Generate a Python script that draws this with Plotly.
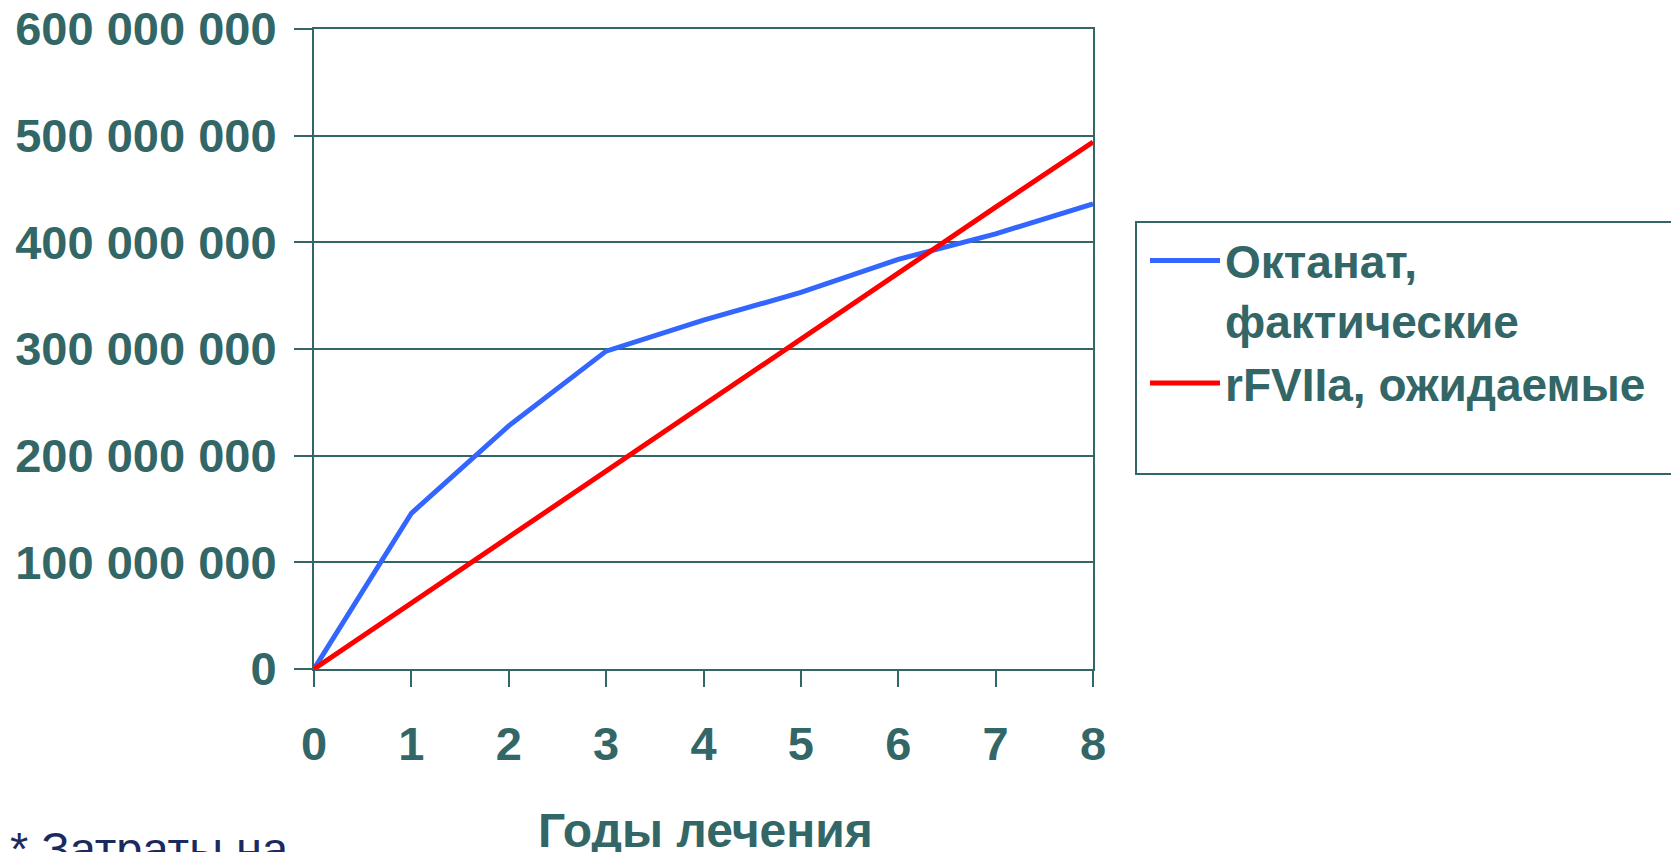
import plotly.graph_objects as go

years = [0, 1, 2, 3, 4, 5, 6, 7, 8]
octanat = [0, 146e6, 228e6, 298e6, 327e6, 353e6, 384e6, 408e6, 436e6]
rfviia = [0, 62e6, 124e6, 186e6, 248e6, 310e6, 372e6, 433e6, 494e6]
series_names = ["Октанат,<br>фактические", "rFVIIa, ожидаемые"]
y_ticks = [0, 100e6, 200e6, 300e6, 400e6, 500e6, 600e6]
y_ticklabels = ["0", "100 000 000", "200 000 000", "300 000 000",
                "400 000 000", "500 000 000", "600 000 000"]
x_title = "Годы лечения"
footnote = "* Затраты на"

TEAL = "#336666"
FONT = "Liberation Sans, Arial, sans-serif"

# plot-area geometry in pixels
L, R, T, B = 314, 1093, 29, 669
W, H = R - L, B - T


def px_x(p):
    return (p - L) / W


def px_y(p):
    return (B - p) / H


fig = go.Figure()
fig.add_trace(go.Scatter(x=years, y=octanat, mode="lines", name=series_names[0],
                         legendgroup="a",
                         line=dict(color="#3366FF", width=5)))
fig.add_trace(go.Scatter(x=years, y=rfviia, mode="lines", name=series_names[1],
                         legendgroup="b",
                         line=dict(color="#FF0000", width=5)))

fig.update_layout(
    width=1671, height=852,
    margin=dict(l=L, r=1671 - R, t=T, b=852 - B),
    paper_bgcolor="white", plot_bgcolor="white",
    font=dict(family=FONT, color=TEAL, size=47),
    showlegend=True,
    legend=dict(
        x=px_x(1145), xanchor="left", y=px_y(224), yanchor="top",
        borderwidth=0, bgcolor="rgba(0,0,0,0)",
        font=dict(family=FONT, size=46, color=TEAL, weight="bold"),
        itemwidth=70, tracegroupgap=0, traceorder="normal", valign="top",
    ),
    xaxis=dict(
        range=[0, 8], tickmode="array", tickvals=years,
        ticktext=[f"<b>{v}</b>" for v in years],
        showline=True, linecolor=TEAL, linewidth=2, mirror=True,
        ticks="outside", ticklen=16, tickwidth=2, tickcolor=TEAL,
        showgrid=False, zeroline=False, automargin=False,
        ticklabelstandoff=17,
        tickfont=dict(family=FONT, size=47, color=TEAL),
    ),
    yaxis=dict(
        range=[0, 600e6], tickmode="array", tickvals=y_ticks,
        ticktext=[f"<b>{t}</b>" for t in y_ticklabels],
        showline=True, linecolor=TEAL, linewidth=2, mirror=True,
        ticks="outside", ticklen=18, tickwidth=2, tickcolor=TEAL,
        showgrid=True, gridcolor=TEAL, gridwidth=2, zeroline=False,
        automargin=False,
        ticklabelstandoff=8,
        tickfont=dict(family=FONT, size=47, color=TEAL),
    ),
)

# legend frame (extends past the right edge, as in the original)
fig.add_shape(type="rect", xref="paper", yref="paper",
              x0=px_x(1136), x1=px_x(1700), y0=px_y(474), y1=px_y(222),
              line=dict(color=TEAL, width=2), fillcolor="rgba(0,0,0,0)",
              layer="below")

# x-axis title (partly cut by the bottom edge, as in the original)
fig.add_annotation(
    text=f"<b>{x_title}</b>", xref="paper", yref="paper",
    x=px_x(705), xanchor="center",
    y=px_y(802), yanchor="top",
    showarrow=False,
    font=dict(family=FONT, size=48, color=TEAL),
)

fig.add_annotation(
    text=footnote, xref="paper", yref="paper",
    x=px_x(8), xanchor="left",
    y=px_y(820), yanchor="top",
    showarrow=False,
    font=dict(family=FONT, size=47, color="#1B2A5E"),
)

fig.write_html("out.html")
